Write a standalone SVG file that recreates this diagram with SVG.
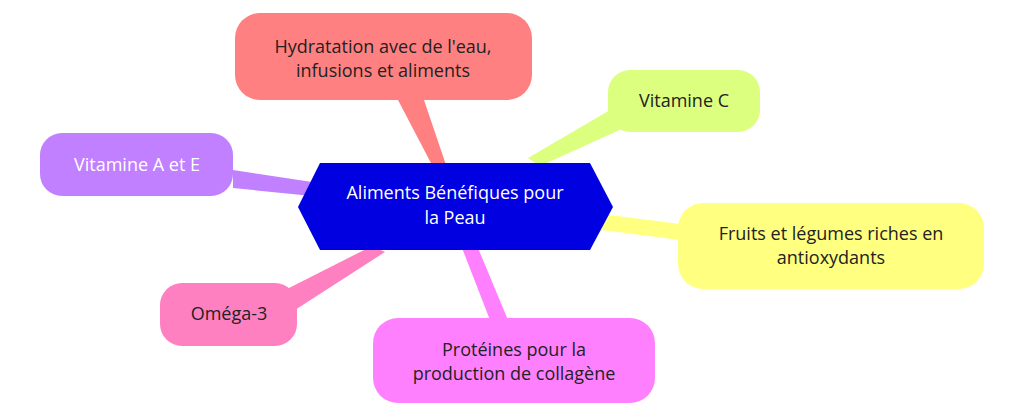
<svg xmlns="http://www.w3.org/2000/svg" width="1024" height="417" viewBox="0 0 1024 417">
<style>
text{font-family:"Open Sans","Noto Sans",sans-serif;font-size:18px;fill:#222;text-anchor:middle}
.c{stroke-linecap:butt}
</style>
<rect width="1024" height="417" fill="#fff"/>
<g id="connectors">
<polygon points="398,100 424,100 446,165 432,165" fill="#ff8080"/>
<polygon points="610,110 624,128 540,166 528,158" fill="#ddff80"/>
<polygon points="233,170 233,188 312,196 312,182" fill="#c080ff"/>
<polygon points="602,214 602,230 680,240 680,224" fill="#ffff80"/>
<polygon points="285,290 295,310 385,252 372,246" fill="#ff80c0"/>
<polygon points="462,248 478,248 508,320 490,320" fill="#ff80ff"/>
</g>
<g id="center">
<polygon points="298,207 320,163 590,163 613,207 590,250 320,250" fill="#0000e0"/>
<text x="455" y="199" style="fill:#fff">Aliments Bénéfiques pour</text>
<text x="455" y="224" style="fill:#fff">la Peau</text>
</g>
<g id="n1"><rect x="235" y="13" width="297" height="87" rx="25" fill="#ff8080"/>
<text x="383" y="53">Hydratation avec de l'eau,</text><text x="383" y="77">infusions et aliments</text></g>
<g id="n2"><rect x="608" y="70" width="152" height="62" rx="22" fill="#ddff80"/>
<text x="684" y="107">Vitamine C</text></g>
<g id="n3"><rect x="40" y="133" width="193" height="63" rx="22" fill="#c080ff"/>
<text x="137" y="171" style="fill:#fff">Vitamine A et E</text></g>
<g id="n4"><rect x="678" y="203" width="306" height="86" rx="25" fill="#ffff80"/>
<text x="831" y="240">Fruits et légumes riches en</text><text x="831" y="264">antioxydants</text></g>
<g id="n5"><rect x="160" y="283" width="137" height="63" rx="22" fill="#ff80c0"/>
<text x="229" y="320">Oméga-3</text></g>
<g id="n6"><rect x="373" y="318" width="282" height="85" rx="25" fill="#ff80ff"/>
<text x="514" y="356">Protéines pour la</text><text x="514" y="380">production de collagène</text></g>
</svg>
